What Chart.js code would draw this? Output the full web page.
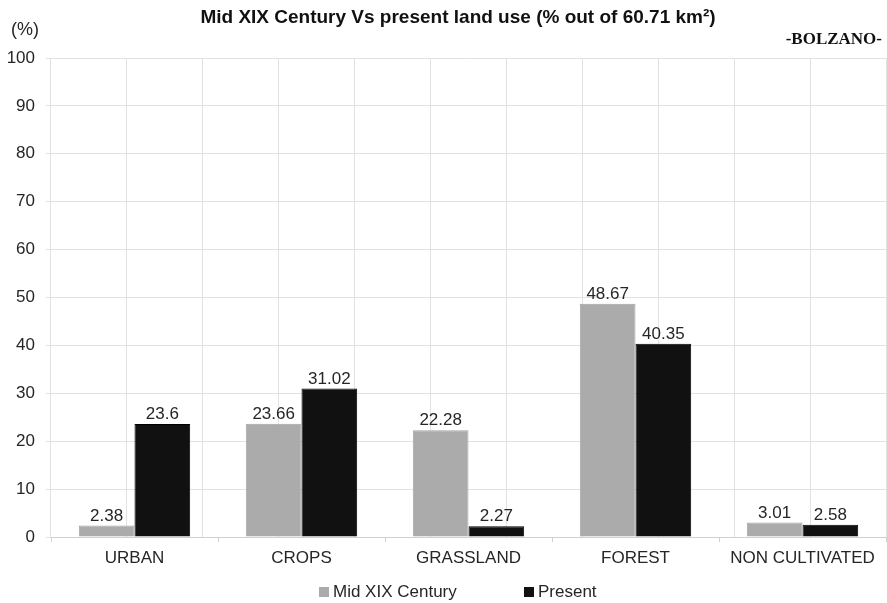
<!DOCTYPE html>
<html>
<head>
<meta charset="utf-8">
<title>Land use Bolzano</title>
<script src="https://cdn.jsdelivr.net/npm/chart.js@4"></script>
<style>
  html, body { margin: 0; padding: 0; background: #ffffff; }
  #c { display: block; }
</style>
</head>
<body>
<canvas id="c" width="887" height="603"></canvas>
<script>
// Land use categories and the share of the 60.71 km² area, in percent
const categories = ['URBAN', 'CROPS', 'GRASSLAND', 'FOREST', 'NON CULTIVATED'];
const midXIXCentury = [2.38, 23.66, 22.28, 48.67, 3.01];
const presentDay = [23.6, 31.02, 2.27, 40.35, 2.58];
const seriesNames = ['Mid XIX Century', 'Present'];
const yMin = 0, yMax = 100, yStep = 10;

const FONT = '"Liberation Sans", Arial, sans-serif';
const TEXT = '#262626';
const GRID = '#e2e2e2';
const colors = ['#ababab', '#111111'];

// Title, unit label and place name
const headerPlugin = {
  id: 'header',
  afterDraw(chart) {
    const ctx = chart.ctx;
    ctx.save();
    ctx.fillStyle = '#111';
    ctx.textBaseline = 'middle';
    ctx.textAlign = 'center';
    ctx.font = 'bold 19px ' + FONT;
    ctx.fillText('Mid XIX Century Vs present land use (% out of 60.71 km\u00B2)', 458, 18);
    ctx.fillStyle = TEXT;
    ctx.textAlign = 'left';
    ctx.font = '18px ' + FONT;
    ctx.fillText('(%)', 11, 30);
    ctx.fillStyle = '#111';
    ctx.textAlign = 'right';
    ctx.font = 'bold 17px "Liberation Serif", "Times New Roman", serif';
    ctx.fillText('-BOLZANO-', 882, 40);
    ctx.restore();
  }
};

// Value written above each bar
const valueLabels = {
  id: 'valueLabels',
  afterDatasetsDraw(chart) {
    const ctx = chart.ctx;
    ctx.save();
    ctx.font = '17px ' + FONT;
    ctx.fillStyle = TEXT;
    ctx.textAlign = 'center';
    ctx.textBaseline = 'bottom';
    chart.data.datasets.forEach((ds, i) => {
      chart.getDatasetMeta(i).data.forEach((bar, j) => {
        ctx.fillText(String(ds.data[j]), bar.x, bar.y - 1);
      });
    });
    ctx.restore();
  }
};

// Legend row under the category labels
const bottomLegend = {
  id: 'bottomLegend',
  afterDraw(chart) {
    const ctx = chart.ctx;
    const items = [{ x: 319 }, { x: 524 }];
    const cy = 592;
    ctx.save();
    ctx.font = '17px ' + FONT;
    ctx.textBaseline = 'middle';
    ctx.textAlign = 'left';
    chart.data.datasets.forEach((ds, i) => {
      const x = items[i].x;
      ctx.fillStyle = ds.backgroundColor;
      ctx.fillRect(x, cy - 5, 10, 10);
      ctx.fillStyle = TEXT;
      ctx.fillText(ds.label, x + 14, cy);
    });
    ctx.restore();
  }
};

new Chart(document.getElementById('c'), {
  type: 'bar',
  data: {
    labels: categories,
    datasets: [
      { label: seriesNames[0], data: midXIXCentury, backgroundColor: colors[0], borderColor: '#a3a3a3', borderWidth: 1 },
      { label: seriesNames[1], data: presentDay, backgroundColor: colors[1], borderColor: '#000000', borderWidth: 1 }
    ]
  },
  options: {
    responsive: false,
    devicePixelRatio: 1,
    animation: false,
    layout: { padding: { top: 58, right: 1, bottom: 0, left: 0 } },
    datasets: { bar: { categoryPercentage: 0.667, barPercentage: 1.0 } },
    plugins: { legend: { display: false }, title: { display: false }, tooltip: { enabled: false } },
    scales: {
      x: {
        type: 'category',
        offset: true,
        grid: { offset: true, drawOnChartArea: false, drawTicks: true, tickLength: 5, color: '#d0d0d0' },
        border: { color: '#d0d0d0' },
        ticks: { color: TEXT, font: { family: FONT, size: 17 }, padding: 6, maxRotation: 0, autoSkip: false },
        afterFit(scale) { scale.height = 66; }
      },
      xGrid: {
        type: 'linear',
        position: 'top',
        min: 0, max: 10,
        ticks: { display: false, stepSize: 1 },
        grid: { color: GRID, drawTicks: false },
        border: { display: false },
        afterFit(scale) { scale.height = 0; }
      },
      y: {
        min: yMin, max: yMax,
        ticks: { stepSize: yStep, color: TEXT, font: { family: FONT, size: 17 }, padding: 11 },
        grid: { color: GRID, tickLength: 5 },
        border: { display: false },
        afterFit(scale) { scale.width = 51; }
      }
    }
  },
  plugins: [headerPlugin, valueLabels, bottomLegend]
});
</script>
</body>
</html>
